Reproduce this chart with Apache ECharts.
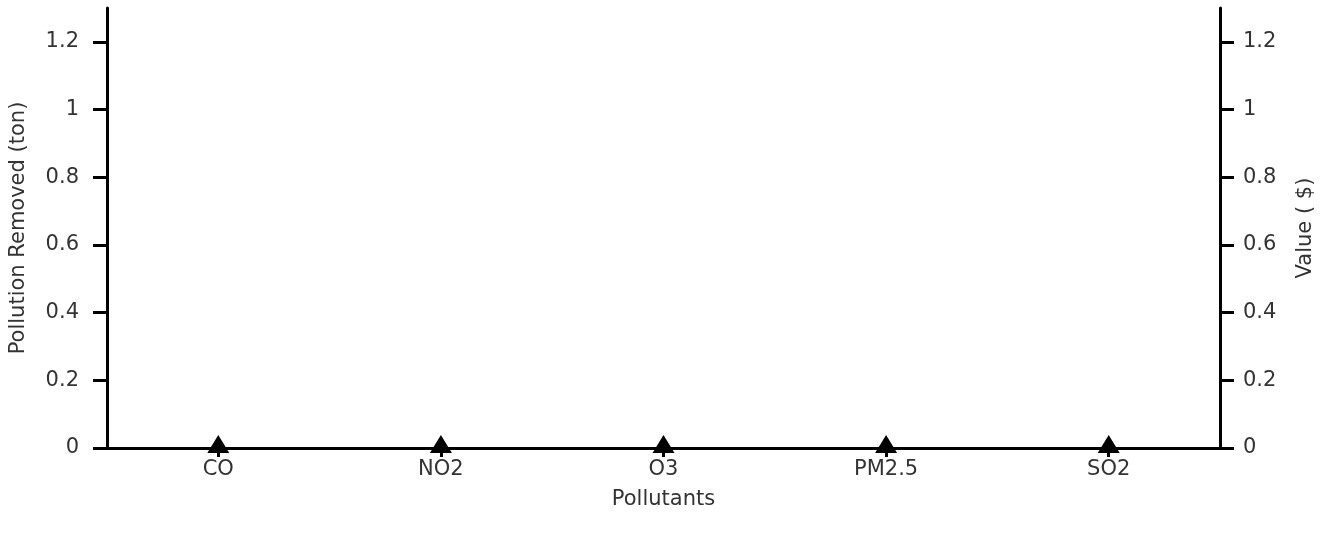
<!DOCTYPE html>
<html><head><meta charset="utf-8">
<script src="https://cdn.jsdelivr.net/npm/echarts@6/dist/echarts.min.js"></script>
<style>html,body{margin:0;padding:0;background:#fff}#c{width:1332px;height:539px}</style>
</head><body><div id="c"></div>
<script>
const categories = ['CO', 'NO2', 'O3', 'PM2.5', 'SO2'];
const pollutionRemoved = [0, 0, 0, 0, 0];
const valueDollars = [0, 0, 0, 0, 0];
const yTicks = [0, 0.2, 0.4, 0.6, 0.8, 1, 1.2];

const font = 'DejaVu Sans';
const txt = { fontFamily: font, fontSize: 21, color: '#333' };
const axisLine = { show: true, lineStyle: { color: '#000', width: 3 } };
const yTick = { show: true, length: 14, customValues: yTicks, lineStyle: { color: '#000', width: 3 } };

const chart = echarts.init(document.getElementById('c'));
chart.setOption({
  animation: false,
  grid: { left: 107, right: 112, top: 8, bottom: 91, containLabel: false, outerBoundsMode: 'none' },
  xAxis: {
    type: 'category', data: categories,
    name: 'Pollutants', nameLocation: 'middle', nameGap: 41,
    nameTextStyle: txt,
    axisLine: axisLine,
    axisTick: { show: true, alignWithLabel: true, length: 9, lineStyle: { color: '#000', width: 3 } },
    axisLabel: Object.assign({ margin: 11 }, txt), splitLine: { show: false }
  },
  yAxis: [
    {
      type: 'value', min: 0, max: 1.3, interval: 0.2, position: 'left',
      name: 'Pollution Removed (ton)', nameLocation: 'middle', nameGap: 78,
      nameTextStyle: txt,
      axisLine: axisLine, axisTick: yTick, splitLine: { show: false },
      axisLabel: Object.assign({ margin: 28, customValues: yTicks }, txt)
    },
    {
      type: 'value', min: 0, max: 1.3, interval: 0.2, position: 'right',
      name: 'Value ( $)', nameLocation: 'middle', nameGap: 75,
      nameTextStyle: txt,
      axisLine: axisLine, axisTick: yTick, splitLine: { show: false },
      axisLabel: Object.assign({ margin: 23, customValues: yTicks }, txt)
    }
  ],
  series: [
    { type: 'bar', yAxisIndex: 0, data: pollutionRemoved, itemStyle: { color: '#4472c4' }, barWidth: '40%' },
    { type: 'line', yAxisIndex: 1, data: valueDollars, symbol: 'triangle', symbolSize: [22, 18], symbolOffset: [0, -4],
      showAllSymbol: true, lineStyle: { width: 0 }, itemStyle: { color: '#000' }, z: 5 }
  ]
});
</script>
</body></html>
